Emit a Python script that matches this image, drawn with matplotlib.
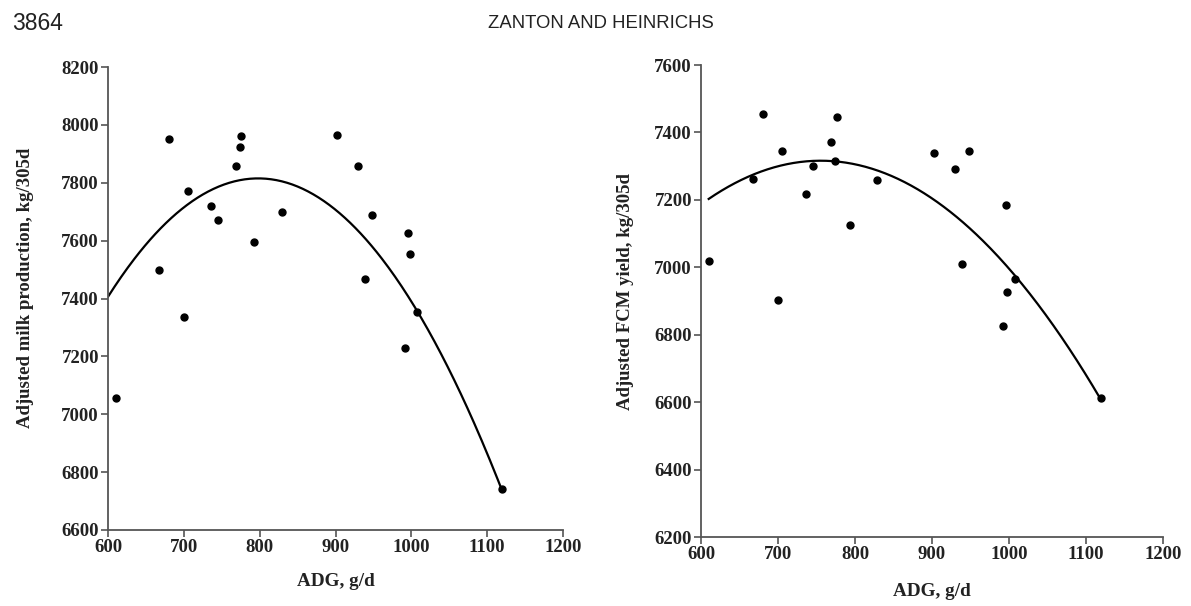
import numpy as np
import matplotlib
matplotlib.use("Agg")
import matplotlib.pyplot as plt

# ---- data ----
adg = [610, 667, 680, 700, 705, 736, 745, 769, 774, 776, 793, 829,
       902, 930, 939, 948, 992, 996, 998, 1008, 1119]
milk = [7055, 7500, 7952, 7335, 7770, 7720, 7670, 7857, 7923, 7960, 7596, 7700,
        7966, 7857, 7468, 7688, 7228, 7626, 7555, 7352, 6743]
fcm = [7020, 7262, 7455, 6904, 7346, 7219, 7302, 7372, 7315, 7447, 7126, 7259,
       7339, 7292, 7009, 7346, 6827, 7186, 6926, 6966, 6614]

# quadratic regression curves, centred at ADG = 800: y = a + b*(x-800) + c*(x-800)^2
milk_fit = (7815.0, -0.0406, -0.010428)
fcm_fit = (7305.7, -0.4762, -0.005351)
fit_range = (600, 1119)
fcm_fit_range = (610, 1117)

milk_yticks = [6600, 6800, 7000, 7200, 7400, 7600, 7800, 8000, 8200]
fcm_yticks = [6200, 6400, 6600, 6800, 7000, 7200, 7400, 7600]
xticks = [600, 700, 800, 900, 1000, 1100, 1200]

header_left = "3864"
header_center = "ZANTON AND HEINRICHS"

# ---- figure ----
fig = plt.figure(figsize=(11.91, 6.06), dpi=100)
serif = "Liberation Serif"
sans = "Liberation Sans"

fig.text(12 / 1191, 1 - 23 / 606, header_left, family=sans, fontsize=16.5,
         color="#222222", ha="left", va="center")
fig.text(601 / 1191, 1 - 24 / 606, header_center, family=sans, fontsize=13.3,
         color="#222222", ha="center", va="center")


def panel(rect, y, fit, frange, yticks, ylabel, ylabel_xy, xlabelpad):
    ax = fig.add_axes(rect)
    xs = np.linspace(frange[0], frange[1], 300)
    u = xs - 800
    ax.plot(xs, fit[0] + fit[1] * u + fit[2] * u ** 2, color="black", lw=1.6,
            zorder=2)
    ax.plot(adg, y, "o", color="black", ms=5, zorder=3)
    ax.set_xlim(600, 1200)
    ax.set_ylim(yticks[0], yticks[-1])
    ax.set_xticks(xticks)
    ax.set_yticks(yticks)
    for s in ("top", "right"):
        ax.spines[s].set_visible(False)
    for s in ("left", "bottom"):
        ax.spines[s].set_color("#555555")
        ax.spines[s].set_linewidth(1.3)
    ax.tick_params(direction="out", length=5, width=1.2, color="#555555",
                   pad=1.5)
    for lab in ax.get_xticklabels() + ax.get_yticklabels():
        lab.set_family(serif)
        lab.set_fontweight("bold")
        lab.set_fontsize(13.5)
        lab.set_color("#222222")
    ax.set_xlabel("ADG, g/d", family=serif, fontweight="bold", fontsize=13.8,
                  color="#222222", labelpad=xlabelpad)
    ax.set_ylabel(ylabel, family=serif, fontweight="bold", fontsize=13.5,
                  color="#222222")
    ax.yaxis.set_label_coords(*ylabel_xy)
    return ax


panel([108 / 1191, 1 - 530 / 606, 455 / 1191, 463 / 606], milk, milk_fit,
      fit_range, milk_yticks, "Adjusted milk production, kg/305d",
      (-0.163, 0.523), 12)
panel([701 / 1191, 1 - 537.3 / 606, 462 / 1191, 472.3 / 606], fcm, fcm_fit,
      fcm_fit_range, fcm_yticks, "Adjusted FCM yield, kg/305d",
      (-0.145, 0.521), 14)

fig.savefig("out.png", dpi=100)
